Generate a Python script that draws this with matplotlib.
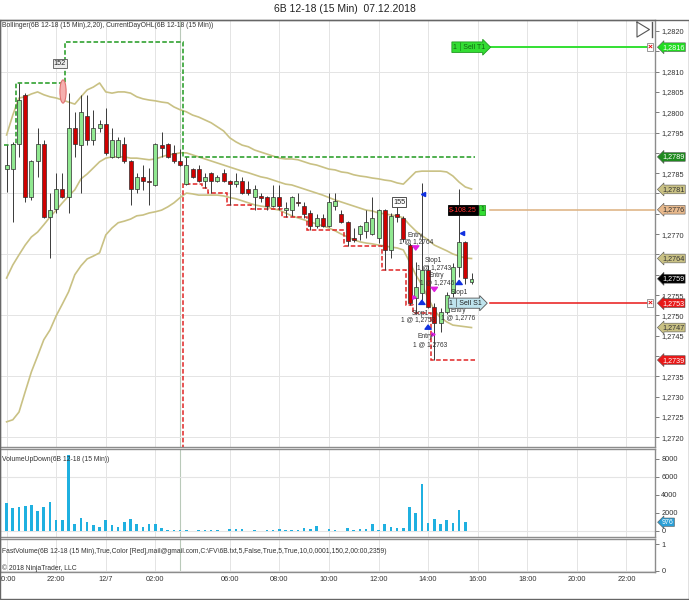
import numpy as np
import matplotlib
matplotlib.use("Agg")
import matplotlib.pyplot as plt
from matplotlib.patches import Ellipse, Rectangle
from matplotlib.transforms import blended_transform_factory

plt.rcParams["font.family"] = ["Liberation Sans", "DejaVu Sans"]

# 15 min bars, 6B 12-18 (bar index is the x axis, as in NinjaTrader)
opens = [1.27860, 1.27860, 1.27922, 1.28043, 1.27791, 1.27880, 1.27922, 1.27742, 1.27762, 1.27811,
         1.27791, 1.27961, 1.27919, 1.27991, 1.27932, 1.27961, 1.27971, 1.27890, 1.27890, 1.27922,
         1.27880, 1.27811, 1.27841, 1.27831, 1.27821, 1.27919, 1.27922, 1.27900, 1.27880, 1.27823,
         1.27860, 1.27860, 1.27831, 1.27851, 1.27831, 1.27851, 1.27831, 1.27823, 1.27831, 1.27811,
         1.27791, 1.27791, 1.27791, 1.27769, 1.27791, 1.27759, 1.27759, 1.27779, 1.27769, 1.27752,
         1.27720, 1.27740, 1.27720, 1.27769, 1.27750, 1.27730, 1.27691, 1.27700, 1.27708, 1.27700,
         1.27691, 1.27759, 1.27661, 1.27750, 1.27740, 1.27673, 1.27543, 1.27555, 1.27612, 1.27521,
         1.27481, 1.27508, 1.27555, 1.27619, 1.27681, 1.27582]
highs = [1.27919, 1.27927, 1.28072, 1.28047, 1.27883, 1.27961, 1.27932, 1.27801, 1.27851, 1.27851,
         1.28047, 1.28001, 1.28043, 1.28043, 1.28006, 1.27981, 1.28011, 1.27961, 1.27939, 1.27939,
         1.27883, 1.27851, 1.27870, 1.27863, 1.27924, 1.27951, 1.27924, 1.27919, 1.27910, 1.27890,
         1.27863, 1.27870, 1.27851, 1.27853, 1.27846, 1.27860, 1.27833, 1.27851, 1.27841, 1.27831,
         1.27821, 1.27801, 1.27794, 1.27821, 1.27821, 1.27779, 1.27794, 1.27801, 1.27779, 1.27759,
         1.27750, 1.27750, 1.27801, 1.27801, 1.27759, 1.27732, 1.27715, 1.27723, 1.27759, 1.27791,
         1.27762, 1.27762, 1.27752, 1.27767, 1.27745, 1.27678, 1.27632, 1.27826, 1.27624, 1.27531,
         1.27518, 1.27558, 1.27629, 1.27811, 1.27683, 1.27604]
lows = [1.27804, 1.27730, 1.27890, 1.27779, 1.27784, 1.27841, 1.27740, 1.27641, 1.27752, 1.27790,
        1.27752, 1.27890, 1.27801, 1.27919, 1.27919, 1.27951, 1.27895, 1.27888, 1.27887, 1.27876,
        1.27772, 1.27801, 1.27809, 1.27772, 1.27819, 1.27890, 1.27887, 1.27876, 1.27868, 1.27821,
        1.27838, 1.27828, 1.27813, 1.27801, 1.27828, 1.27828, 1.27772, 1.27816, 1.27799, 1.27796,
        1.27759, 1.27779, 1.27759, 1.27767, 1.27759, 1.27741, 1.27745, 1.27769, 1.27740, 1.27710,
        1.27715, 1.27718, 1.27718, 1.27759, 1.27728, 1.27671, 1.27681, 1.27686, 1.27691, 1.27698,
        1.27678, 1.27612, 1.27641, 1.27730, 1.27681, 1.27526, 1.27506, 1.27538, 1.27518, 1.27390,
        1.27459, 1.27504, 1.27545, 1.27595, 1.27577, 1.27577]
closes = [1.27870, 1.27922, 1.28030, 1.27791, 1.27880, 1.27922, 1.27742, 1.27759, 1.27811, 1.27791,
          1.27961, 1.27922, 1.28001, 1.27932, 1.27961, 1.27971, 1.27900, 1.27932, 1.27932, 1.27880,
          1.27811, 1.27841, 1.27831, 1.27828, 1.27922, 1.27912, 1.27890, 1.27880, 1.27870, 1.27870,
          1.27841, 1.27831, 1.27841, 1.27831, 1.27841, 1.27831, 1.27823, 1.27831, 1.27801, 1.27801,
          1.27811, 1.27790, 1.27769, 1.27791, 1.27769, 1.27764, 1.27791, 1.27777, 1.27750, 1.27720,
          1.27740, 1.27720, 1.27779, 1.27782, 1.27730, 1.27683, 1.27686, 1.27720, 1.27730, 1.27740,
          1.27759, 1.27661, 1.27745, 1.27742, 1.27688, 1.27531, 1.27570, 1.27612, 1.27521, 1.27481,
          1.27508, 1.27550, 1.27619, 1.27681, 1.27592, 1.27590]

# Bollinger(2,20)
bb_upper = [1.27944, 1.27993, 1.28035, 1.28038, 1.28045, 1.28050, 1.28043, 1.28038, 1.28035, 1.28030,
            1.28025, 1.28020, 1.28038, 1.28055, 1.28062, 1.28072, 1.28050, 1.28047, 1.28050, 1.28050,
            1.28047, 1.28038, 1.28033, 1.28030, 1.28028, 1.28025, 1.28023, 1.28013, 1.28006, 1.28001,
            1.27993, 1.27988, 1.27981, 1.27974, 1.27964, 1.27954, 1.27937, 1.27927, 1.27919, 1.27915,
            1.27907, 1.27902, 1.27897, 1.27892, 1.27887, 1.27885, 1.27885, 1.27883, 1.27878, 1.27873,
            1.27870, 1.27865, 1.27860, 1.27858, 1.27853, 1.27851, 1.27846, 1.27843, 1.27841, 1.27838,
            1.27836, 1.27833, 1.27831, 1.27826, 1.27823, 1.27838, 1.27853, 1.27855, 1.27855, 1.27855,
            1.27855, 1.27853, 1.27843, 1.27828, 1.27816, 1.27811]
bb_middle = [1.27592, 1.27624, 1.27649, 1.27673, 1.27693, 1.27705, 1.27723, 1.27742, 1.27759, 1.27777,
             1.27794, 1.27809, 1.27836, 1.27848, 1.27863, 1.27878, 1.27887, 1.27890, 1.27890, 1.27890,
             1.27887, 1.27887, 1.27885, 1.27883, 1.27885, 1.27890, 1.27895, 1.27897, 1.27900, 1.27900,
             1.27895, 1.27890, 1.27885, 1.27880, 1.27875, 1.27870, 1.27865, 1.27860, 1.27855, 1.27851,
             1.27846, 1.27841, 1.27838, 1.27833, 1.27828, 1.27823, 1.27821, 1.27816, 1.27811, 1.27806,
             1.27801, 1.27796, 1.27790, 1.27784, 1.27779, 1.27774, 1.27769, 1.27764, 1.27759, 1.27757,
             1.27752, 1.27750, 1.27747, 1.27745, 1.27740, 1.27723, 1.27708, 1.27696, 1.27686, 1.27673,
             1.27666, 1.27659, 1.27651, 1.27646, 1.27641, 1.27640]
bb_lower = [1.27238, 1.27243, 1.27262, 1.27312, 1.27361, 1.27400, 1.27440, 1.27464, 1.27499, 1.27528,
            1.27558, 1.27600, 1.27622, 1.27639, 1.27646, 1.27654, 1.27698, 1.27715, 1.27728, 1.27732,
            1.27737, 1.27745, 1.27747, 1.27752, 1.27755, 1.27759, 1.27767, 1.27777, 1.27790, 1.27801,
            1.27799, 1.27796, 1.27796, 1.27796, 1.27796, 1.27794, 1.27790, 1.27787, 1.27782, 1.27777,
            1.27772, 1.27769, 1.27767, 1.27762, 1.27759, 1.27752, 1.27745, 1.27740, 1.27735, 1.27730,
            1.27725, 1.27720, 1.27715, 1.27708, 1.27700, 1.27693, 1.27686, 1.27681, 1.27678, 1.27676,
            1.27673, 1.27671, 1.27668, 1.27666, 1.27661, 1.27632, 1.27600, 1.27575, 1.27543, 1.27513,
            1.27494, 1.27484, 1.27476, 1.27474, 1.27472, 1.27470]

volume = [3070, 2520, 2700, 2780, 2890, 2220, 2700, 3190, 1220, 1190,
          8400, 780, 1440, 1040, 670, 480, 1260, 670, 410, 960,
          1370, 780, 480, 780, 780, 330, 110, 110, 150, 110,
          40, 110, 110, 110, 70, 30, 220, 190, 220, 30,
          110, 30, 70, 110, 260, 110, 70, 150, 330, 260,
          520, 40, 190, 110, 40, 300, 150, 190, 190, 740,
          110, 820, 440, 370, 330, 2700, 2000, 5220, 890, 1300,
          820, 1220, 890, 2330, 976, 0]

# CurrentDayOHL steps (bar boundaries and levels)
ohl_high_edges = [-0.5, 1.5, 9.5, 28.5, 75.5]
ohl_high_levels = [1.27919, 1.28071, 1.28173, 1.27890]
ohl_low_edges = [-0.5, 28.5, 31.5, 32.5, 35.5, 39.5, 44.5, 48.5, 54.5, 60.5, 64.5, 65.5, 68.5, 75.5]
ohl_low_levels = [1.26900, 1.27823, 1.27813, 1.27802, 1.27772, 1.27761, 1.27741, 1.27710,
                  1.27671, 1.27612, 1.27526, 1.27506, 1.27390]
session_break = 28.05

tick_pos = [0, 8, 16, 24, 36, 44, 52, 60, 68, 76, 84, 92, 100]
tick_lab = ["20:00", "22:00", "12/7", "02:00", "06:00", "08:00", "10:00", "12:00",
            "14:00", "16:00", "18:00", "20:00", "22:00"]

# executions / chart trader marks
sell_arrows = [(66, 1.27665), (69, 1.27563)]
buy_arrows = [(67, 1.27533), (68, 1.27472), (73, 1.27582)]
blue_flags = [(67.2, 1.27799), (73.4, 1.27703)]
small_marks = [(65.7, 1.27545), (68.8, 1.27454)]
exec_texts = [(65.9, 1.27696, "Entry"), (66.0, 1.27682, "1 @ 1,2764"),
              (68.9, 1.27636, "Stop1"), (68.9, 1.27617, "1 @ 1,2743"),
              (69.4, 1.27597, "Entry"), (69.4, 1.27580, "1 @ 1,2746"),
              (66.7, 1.27504, "Stop1"), (66.4, 1.27489, "1 @ 1,2753"),
              (73.1, 1.27556, "Stop1"),
              (72.8, 1.27513, "Entry"), (72.8, 1.27495, "1 @ 1,2776"),
              (67.5, 1.27447, "Entry"), (68.3, 1.27427, "1 @ 1,2763")]

# right axis price markers: price, face, text colour
axis_flags = [(1.2816, "#22DD22", "white"), (1.2789, "#1E8A1E", "white"),
              (1.2781, "#C9C184", "#333333"), (1.2776, "#E8B98C", "#333333"),
              (1.2764, "#C9C184", "#333333"), (1.2759, "black", "white"),
              (1.2753, "#E81818", "white"), (1.2747, "#C9C184", "#333333"),
              (1.2739, "#E81818", "white")]

target_price = 1.2816
stop_price = 1.2753
position_price = 1.2776

x = np.arange(len(opens))
o = np.array(opens)
c = np.array(closes)
up = c >= o

fig = plt.figure(figsize=(6.89, 6.0), dpi=100)
fig.patch.set_facecolor("white")

W, H = 689.0, 600.0
xr = 655.0 / W
ax = fig.add_axes([0, 1 - 447 / H, xr, 427 / H])
axv = fig.add_axes([0, 1 - 537 / H, xr, 88 / H], sharex=ax)
axf = fig.add_axes([0, 1 - 572 / H, xr, 33 / H], sharex=ax)

xmin, xmax = -1.065, 104.6
ax.set_xlim(xmin, xmax)

grid_c = "#E4E4E4"
for a in (ax, axv, axf):
    for s in a.spines.values():
        s.set_color("#8C8C8C")
        s.set_linewidth(1.0)
    a.yaxis.tick_right()
    a.tick_params(axis="y", length=3, width=0.6, color="#666666", labelsize=5.3,
                  labelcolor="#333333", pad=1.5)
    a.tick_params(axis="x", length=0)
    for t in tick_pos:
        a.axvline(t, color=grid_c, lw=0.7, zorder=0)
    a.axvline(session_break, color="#B9C9B9", lw=0.8, zorder=0)

flag_prices = [f[0] for f in axis_flags]


def price_fmt(v, pos):
    # labels hidden behind a price marker are left out
    if min(abs(v - fp) for fp in flag_prices) < 0.00011:
        return ""
    return ("%.4f" % v).replace(".", ",")


# main price panel
ax.set_ylim(1.27176, 1.28227)
ax.set_yticks(np.round(np.arange(1.2720, 1.28201, 0.0005), 4))
ax.yaxis.set_major_formatter(plt.FuncFormatter(price_fmt))
for g in np.arange(1.2720, 1.2820, 0.0015):
    ax.axhline(g, color=grid_c, lw=0.7, zorder=0)

band_c = "#C9C184"
ax.plot(x, bb_upper, color=band_c, lw=1.2, zorder=2)
ax.plot(x, bb_middle, color=band_c, lw=1.2, zorder=2)
ax.plot(x, bb_lower, color=band_c, lw=1.2, zorder=2)

ax.stairs(ohl_high_levels, ohl_high_edges, color="#1F9A1F", lw=1.1, ls=(0, (3, 1.5)), zorder=3,
          baseline=None)
ax.stairs(ohl_low_levels, ohl_low_edges, color="#E02424", lw=1.1, ls=(0, (3, 1.5)), zorder=3,
          baseline=None)

# candles
ax.vlines(x, lows, highs, color="#3A3A3A", lw=0.7, zorder=4)
body_lo = np.minimum(o, c)
body_h = np.maximum(np.abs(c - o), 0.00003)
ax.bar(x[up], body_h[up], bottom=body_lo[up], width=0.64, color="#90E890",
       edgecolor="#2E2E2E", lw=0.5, zorder=5)
ax.bar(x[~up], body_h[~up], bottom=body_lo[~up], width=0.64, color="#D00000",
       edgecolor="#2E2E2E", lw=0.5, zorder=5)

# markers and labels drawn on the chart
ax.add_patch(Ellipse((9.1, 1.28051), 1.0, 0.00057, fc="#F5AFAF", ec="#E07070", lw=0.8, zorder=6))
ax.text(8.6, 1.28120, "152", fontsize=5.3, ha="center", va="center", color="#222222", zorder=7,
        bbox=dict(boxstyle="square,pad=0.15", fc="#EDEDED", ec="#555555", lw=0.6))
ax.text(63.3, 1.27779, "155", fontsize=5.3, ha="center", va="center", color="#222222", zorder=7,
        bbox=dict(boxstyle="square,pad=0.15", fc="white", ec="#333333", lw=0.6))

for i, p in sell_arrows:
    ax.annotate("", xy=(i, p - 0.00011), xytext=(i, p + 0.00011), zorder=8,
                arrowprops=dict(arrowstyle="simple,head_width=0.9,head_length=0.6,tail_width=0.35",
                                color="#E020E0", mutation_scale=5))
for i, p in buy_arrows:
    ax.annotate("", xy=(i, p + 0.00011), xytext=(i, p - 0.00011), zorder=8,
                arrowprops=dict(arrowstyle="simple,head_width=0.9,head_length=0.6,tail_width=0.35",
                                color="#1030E0", mutation_scale=5))
for i, p in blue_flags:
    ax.plot(i, p, marker="<", ms=3, color="#1030E0", zorder=8)
for i, p in small_marks:
    ax.plot(i, p, marker=">", ms=2.5, color="#E020E0", zorder=8)
for i, p, t in exec_texts:
    ax.text(i, p, t, fontsize=4.8, ha="center", va="center", color="#333333", zorder=9)

# chart trader lines
ax.plot([78.0, 103.4], [target_price, target_price], color="#33E033", lw=1.4, zorder=6)
ax.plot([78.0, 103.4], [stop_price, stop_price], color="#E81818", lw=1.1, zorder=6)
ax.plot([78.0, xmax], [position_price, position_price], color="#DDB07F", lw=1.1, zorder=6)
ax.text(72.0, target_price, "1 \u2502Sell T1", fontsize=5, ha="left", va="center", color="#116611",
        zorder=9, bbox=dict(boxstyle="rarrow,pad=0.15", fc="#33DD33", ec="#229922", lw=0.6))
ax.text(71.4, stop_price, "1 \u2502Sell S1", fontsize=5, ha="left", va="center", color="#222222",
        zorder=10, bbox=dict(boxstyle="rarrow,pad=0.12", fc="#BFE4EE", ec="#555555", lw=0.6))
ax.text(71.4, position_price, "$-108.25", fontsize=5, ha="left", va="center", color="#FF3030",
        zorder=9, bbox=dict(boxstyle="square,pad=0.2", fc="black", ec="black", lw=0.6))
ax.text(76.7, position_price, "1", fontsize=5, ha="center", va="center", color="#114411",
        zorder=9, bbox=dict(boxstyle="square,pad=0.2", fc="#33DD33", ec="#229922", lw=0.6))
for p in (target_price, stop_price):
    ax.text(103.85, p, "\u00d7", fontsize=6, ha="center", va="center", color="#E00000",
            fontweight="bold", zorder=9,
            bbox=dict(boxstyle="square,pad=0.05", fc="white", ec="#888888", lw=0.6))

trans = blended_transform_factory(ax.transAxes, ax.transData)
for p, fc, tc in axis_flags:
    ax.text(1.0 + 7 / 655, p, ("%.4f" % p).replace(".", ","), transform=trans, fontsize=5.2,
            ha="left", va="center", color=tc, zorder=10, clip_on=False,
            bbox=dict(boxstyle="larrow,pad=0.12", fc=fc, ec="#555555", lw=0.4))

ax.text(0.003, 0.988, "Bollinger(6B 12-18 (15 Min),2,20), CurrentDayOHL(6B 12-18 (15 Min))",
        transform=ax.transAxes, fontsize=4.9, ha="left", va="center", color="#333333")

# "go to end" button
bx = [0.9725, 0.9725, 0.9915, 0.9725]
by = [0.9953, 0.960, 0.9777, 0.9953]
ax.plot(bx, by, transform=ax.transAxes, color="#555555", lw=0.8, clip_on=False)
ax.plot([0.9954, 0.9954], [0.9953, 0.960], transform=ax.transAxes, color="#555555", lw=1.0,
        clip_on=False)

# volume panel
axv.bar(x, volume, width=0.42, color="#1FB0E0", zorder=3)
axv.set_ylim(-667, 9111)
axv.set_yticks([0, 2000, 4000, 6000, 8000])
for g in (0, 6000):
    axv.axhline(g, color=grid_c, lw=0.8, zorder=0)
axv.text(0.003, 0.886, "VolumeUpDown(6B 12-18 (15 Min))", transform=axv.transAxes, fontsize=4.9,
         ha="left", va="center", color="#333333", zorder=5)
tv = blended_transform_factory(axv.transAxes, axv.transData)
axv.text(1.0 + 7 / 655, volume[-2], "976", transform=tv, fontsize=5.0, ha="left", va="center",
         color="white", clip_on=False,
         bbox=dict(boxstyle="larrow,pad=0.1", fc="#2A9FD6", ec="#555555", lw=0.4))

# FastVolume panel
axf.set_ylim(-0.04, 1.2)
axf.set_yticks([0, 1])
axf.axhline(0, color=grid_c, lw=0.8, zorder=0)
axf.text(0.003, 0.62, r"FastVolume(6B 12-18 (15 Min),True,Color [Red],mail@gmail.com,C:\FV\6B.txt,5,"
         r"False,True,5,True,10,0,0001,150,2,00:00,2359)", transform=axf.transAxes, fontsize=4.9,
         ha="left", va="center", color="#333333")
axf.text(0.003, 0.13, "\u00a9 2018 NinjaTrader, LLC", transform=axf.transAxes, fontsize=4.9,
         ha="left", va="center", color="#333333")

axf.set_xticks(tick_pos)
axf.set_xticklabels(tick_lab)
axf.tick_params(axis="x", labelsize=5.3, labelcolor="#333333", pad=3)
plt.setp(ax.get_xticklabels(), visible=False)
plt.setp(axv.get_xticklabels(), visible=False)

fig.text(0.5, 1 - 9 / H, "6B 12-18 (15 Min)  07.12.2018", ha="center", va="center", fontsize=7.5,
         color="#222222")
fig.add_artist(Rectangle((0.0007, 0.0015), 0.9986, 1 - 19.5 / H - 0.0015, transform=fig.transFigure,
                         fill=False, ec="#666666", lw=1.0))

fig.savefig("out.png", dpi=100)
